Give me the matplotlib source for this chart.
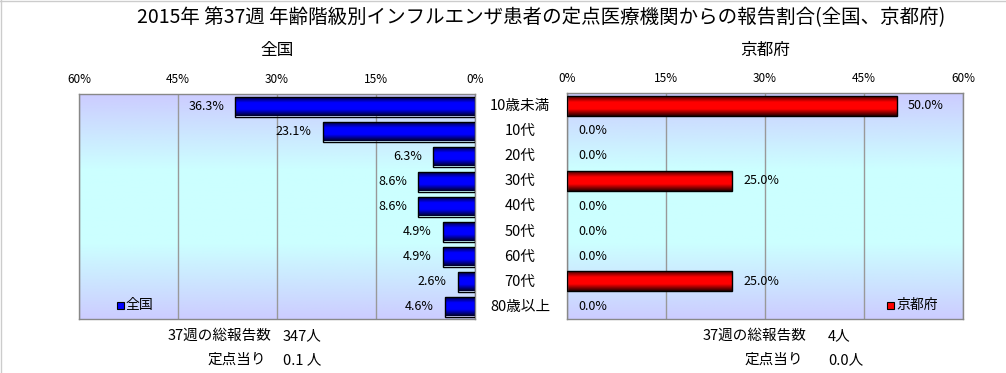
import numpy as np
import matplotlib.pyplot as plt
from matplotlib.colors import LinearSegmentedColormap
from matplotlib.lines import Line2D
from matplotlib.patches import Rectangle

plt.rcParams['font.family'] = ['Noto Sans CJK JP', 'DejaVu Sans']

categories = ['10歳未満', '10代', '20代', '30代', '40代', '50代', '60代', '70代', '80歳以上']
national = [36.3, 23.1, 6.3, 8.6, 8.6, 4.9, 4.9, 2.6, 4.6]
kyoto = [50.0, 0.0, 0.0, 25.0, 0.0, 0.0, 0.0, 25.0, 0.0]
ticks = [0, 15, 30, 45, 60]
title = '2015年 第37週 年齢階級別インフルエンザ患者の定点医療機関からの報告割合(全国、京都府)'
national_total = '347人'
national_per = '0.1 人'
kyoto_total = '4人'
kyoto_per = '0.0人'

W, H = 1006, 373
fig = plt.figure(figsize=(W / 100, H / 100), dpi=100)
fig.patch.set_facecolor('white')


def box(x0, y0, x1, y1):
    return [x0 / W, 1 - y1 / H, (x1 - x0) / W, (y1 - y0) / H]


bg_cmap = LinearSegmentedColormap.from_list(
    'bg', ['#ccccff', '#ccffff', '#ccffff', '#ccccff'])
blue_cmap = LinearSegmentedColormap.from_list(
    'blue', ['#000022', '#0000ff', '#0000ff', '#000022'])
red_cmap = LinearSegmentedColormap.from_list(
    'red', ['#220000', '#ff0000', '#ff0000', '#220000'])
grad = np.linspace(0, 1, 256).reshape(-1, 1)


def panel(ax, values, cmap, left):
    y = np.arange(len(categories))
    ax.imshow(grad, cmap=bg_cmap, aspect='auto', extent=[0, 1, 0, 1],
              transform=ax.transAxes, zorder=0)
    bars = ax.barh(y, values, height=0.8, facecolor='none',
                   edgecolor='black', linewidth=1.0, zorder=3)
    for b in bars:
        if b.get_width() <= 0:
            b.set_linewidth(0)
            continue
        x0, y0 = b.get_x(), b.get_y()
        im = ax.imshow(grad, cmap=cmap, aspect='auto', zorder=2,
                       extent=[x0, x0 + b.get_width(), y0 + b.get_height(), y0])
        im.set_clip_path(b)
    for v, yy in zip(values, y):
        off = -8 if left else 8
        ax.annotate(f'{v:.1f}%', (v, yy), xytext=(off, 0),
                    textcoords='offset points',
                    ha='right' if left else 'left', va='center',
                    fontsize=9, zorder=4)
    ax.set_xlim(0, 60)
    ax.set_ylim(len(categories) - 0.5, -0.5)
    ax.set_xticks(ticks)
    ax.set_xticklabels([f'{t}%' for t in ticks], fontsize=8.5)
    ax.xaxis.tick_top()
    ax.tick_params(axis='x', length=0, pad=6)
    ax.set_yticks([])
    ax.set_axisbelow(True)
    ax.grid(axis='x', color='#999999', linewidth=1.0)
    for s in ax.spines.values():
        s.set_color('#888888')
        s.set_linewidth(1.0)
    if left:
        ax.invert_xaxis()


ax1 = fig.add_axes(box(79, 94, 475, 319))
panel(ax1, national, blue_cmap, True)
ax2 = fig.add_axes(box(567, 93, 963, 319))
panel(ax2, kyoto, red_cmap, False)

for i, c in enumerate(categories):
    fig.text(520 / W, 1 - (106 + 25.1 * i) / H, c, ha='center', va='center',
             fontsize=10.5)

fig.text(541 / W, 1 - 18 / H, title, ha='center', va='center', fontsize=14)
fig.text(277 / W, 1 - 50 / H, '全国', ha='center', va='center', fontsize=12)
fig.text(765 / W, 1 - 50 / H, '京都府', ha='center', va='center', fontsize=12)

# legends inside panels: small square marker + label
for mx, col, label in [(117, '#0000ff', '全国'), (887, '#ff0000', '京都府')]:
    fig.add_artist(Rectangle((mx / W, 1 - 308.5 / H), 7 / W, 7 / H,
                             facecolor=col, edgecolor='black', linewidth=0.8,
                             transform=fig.transFigure))
    fig.text((mx + 9) / W, 1 - 305 / H, label, ha='left', va='center',
             fontsize=10)

# totals under the panels
fs = 10.5
fig.text(271 / W, 1 - 336 / H, '37週の総報告数', ha='right', va='center', fontsize=fs)
fig.text(283 / W, 1 - 336 / H, national_total, ha='left', va='center', fontsize=fs)
fig.text(266 / W, 1 - 360 / H, '定点当り', ha='right', va='center', fontsize=fs)
fig.text(283 / W, 1 - 360 / H, national_per, ha='left', va='center', fontsize=fs)
fig.text(806 / W, 1 - 336 / H, '37週の総報告数', ha='right', va='center', fontsize=fs)
fig.text(828 / W, 1 - 336 / H, kyoto_total, ha='left', va='center', fontsize=fs)
fig.text(803 / W, 1 - 360 / H, '定点当り', ha='right', va='center', fontsize=fs)
fig.text(828 / W, 1 - 360 / H, kyoto_per, ha='left', va='center', fontsize=fs)

# thin frame at top and left edge
fig.add_artist(Line2D([0, 1], [1 - 0.5 / H, 1 - 0.5 / H], color='#cccccc',
                      linewidth=1, transform=fig.transFigure))
fig.add_artist(Line2D([0.5 / W, 0.5 / W], [0, 1], color='#cccccc',
                      linewidth=1, transform=fig.transFigure))

fig.savefig('out.png', dpi=100)
